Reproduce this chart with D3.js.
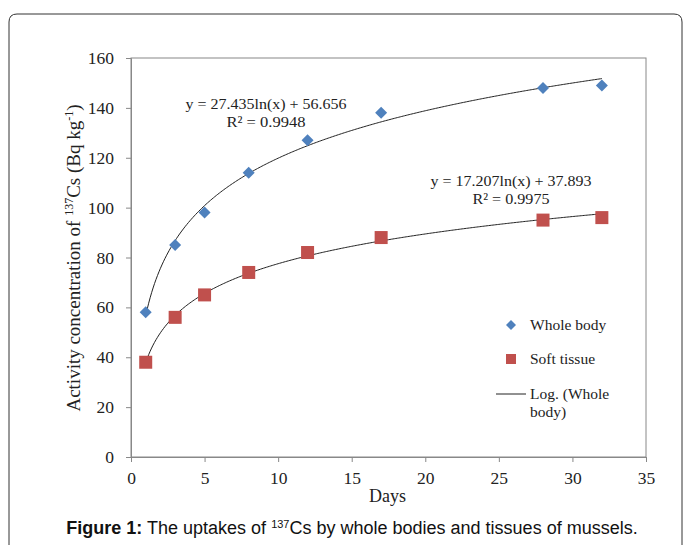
<!DOCTYPE html>
<html><head><meta charset="utf-8">
<script src="https://cdn.jsdelivr.net/npm/d3@7"></script>
<style>body{margin:0;background:#fff}svg{display:block}</style>
</head><body>
<script>
const days = [1, 3, 5, 8, 12, 17, 28, 32];
const wholeBody = [58, 85, 98, 114, 127, 138, 148, 149];
const softTissue = [38, 56, 65, 74, 82, 88, 95, 96];
const fitWhole = [27.435, 56.656];
const fitSoft = [17.207, 37.893];
const xTicks = [0, 5, 10, 15, 20, 25, 30, 35];
const yTicks = [0, 20, 40, 60, 80, 100, 120, 140, 160];

const W = 683, H = 545;
const svg = d3.select("body").append("svg").attr("width", W).attr("height", H);
const serif = "'Liberation Serif','Times New Roman',serif";

svg.append("path").attr("d", "M9,545 L9,22 Q9,14 17,14 L674,14 Q682,14 682,22 L682,545")
  .attr("fill", "none").attr("stroke", "#333").attr("stroke-width", 1);

const L = 131, R = 646, T = 58, B = 457;
const x = d3.scaleLinear().domain([0, 35]).range([L, R]);
const y = d3.scaleLinear().domain([0, 160]).range([B, T]);

svg.append("rect").attr("x", L).attr("y", T).attr("width", R - L).attr("height", B - T)
  .attr("fill", "none").attr("stroke", "#888").attr("stroke-width", 1);

const xa = svg.append("g").attr("transform", `translate(0,${B})`)
  .call(d3.axisBottom(x).tickValues(xTicks).tickSize(5).tickPadding(10));
const ya = svg.append("g").attr("transform", `translate(${L},0)`)
  .call(d3.axisLeft(y).tickValues(yTicks).tickSize(5).tickPadding(12));
[xa, ya].forEach(a => {
  a.select(".domain").attr("stroke", "#888");
  a.selectAll(".tick line").attr("stroke", "#888");
  a.selectAll("text").attr("font-family", serif).attr("font-size", 17.5).attr("fill", "#222");
});

svg.append("text").attr("x", (L + R) / 2 - 1).attr("y", 502).attr("text-anchor", "middle")
  .attr("font-family", serif).attr("font-size", 18).attr("fill", "#222").text("Days");

const yl = svg.append("text").attr("transform", `translate(80,258) rotate(-90)`)
  .attr("text-anchor", "middle").attr("font-family", serif).attr("font-size", 19).attr("fill", "#222");
yl.append("tspan").text("Activity concentration of ");
yl.append("tspan").attr("font-size", 12).attr("dy", -7).text("137");
yl.append("tspan").attr("dy", 7).text("Cs (Bq kg");
yl.append("tspan").attr("font-size", 12).attr("dy", -7).text("-1");
yl.append("tspan").attr("dy", 7).text(")");

// trend lines
const xs = d3.range(1, 32.01, 0.1);
const line = d3.line().x(d => x(d[0])).y(d => y(d[1]));
[fitWhole, fitSoft].forEach(f => {
  svg.append("path").attr("d", line(xs.map(v => [v, f[0] * Math.log(v) + f[1]])))
    .attr("fill", "none").attr("stroke", "#222").attr("stroke-width", 1);
});

const blue = "#4F81BD", red = "#C0504D";
const diamond = d3.symbol().type(d3.symbolSquare).size(72);
svg.append("g").selectAll("path").data(days).join("path")
  .attr("transform", (d, i) => `translate(${x(d)},${y(wholeBody[i])}) rotate(45)`)
  .attr("d", diamond()).attr("fill", blue);
svg.append("g").selectAll("rect").data(days).join("rect")
  .attr("x", d => x(d) - 6.5).attr("y", (d, i) => y(softTissue[i]) - 6.5)
  .attr("width", 13).attr("height", 13).attr("fill", red);

function eq(cx, cy, l1, l2, w1, w2) {
  const t = svg.append("text").attr("font-family", serif).attr("font-size", 15.5).attr("fill", "#222").attr("text-anchor", "middle");
  t.append("tspan").attr("x", cx).attr("y", cy).attr("textLength", w1).attr("lengthAdjust", "spacingAndGlyphs").text(l1);
  t.append("tspan").attr("x", cx).attr("y", cy + 18).attr("textLength", w2).attr("lengthAdjust", "spacingAndGlyphs").text(l2);
}
eq(266, 109, "y = 27.435ln(x) + 56.656", "R² = 0.9948", 161, 79);
eq(511, 186, "y = 17.207ln(x) + 37.893", "R² = 0.9975", 161, 77);

// legend
const lg = svg.append("g").attr("font-family", serif).attr("font-size", 15.5).attr("fill", "#222");
lg.append("path").attr("transform", "translate(511,325) rotate(45)").attr("d", d3.symbol().type(d3.symbolSquare).size(50)()).attr("fill", blue);
lg.append("text").attr("x", 530).attr("y", 330).text("Whole body");
lg.append("rect").attr("x", 506).attr("y", 354).attr("width", 10).attr("height", 10).attr("fill", red);
lg.append("text").attr("x", 530).attr("y", 364).text("Soft tissue");
lg.append("line").attr("x1", 496).attr("x2", 526).attr("y1", 394).attr("y2", 394).attr("stroke", "#222");
lg.append("text").attr("x", 530).attr("y", 399).text("Log. (Whole");
lg.append("text").attr("x", 530).attr("y", 417).text("body)");

// caption
const cap = svg.append("text").attr("x", 352).attr("y", 534).attr("text-anchor", "middle")
  .attr("font-family", "'Liberation Sans',Arial,sans-serif").attr("font-size", 18).attr("fill", "#111");
cap.append("tspan").attr("font-weight", "bold").text("Figure 1:");
cap.append("tspan").text(" The uptakes of ");
cap.append("tspan").attr("font-size", 11).attr("dy", -6).text("137");
cap.append("tspan").attr("dy", 6).text("Cs by whole bodies and tissues of mussels.");
</script>
</body></html>
